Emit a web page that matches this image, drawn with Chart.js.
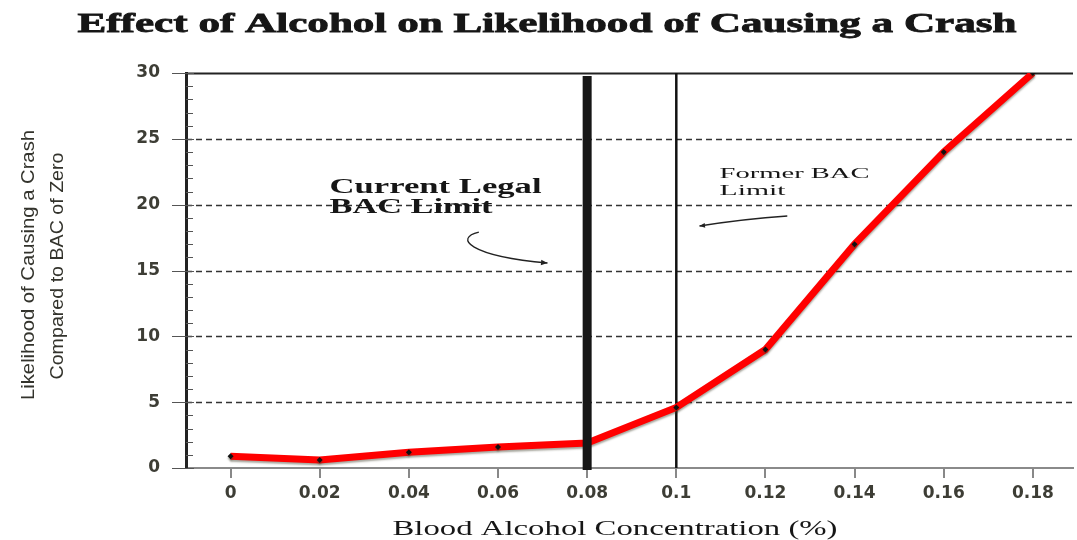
<!DOCTYPE html>
<html>
<head>
<meta charset="utf-8">
<script src="https://cdn.jsdelivr.net/npm/chart.js@4.4.1/dist/chart.umd.min.js"></script>
<style>
  html, body { margin: 0; padding: 0; background: #fff; }
  canvas { display: block; }
</style>
</head>
<body>
<canvas id="crashChart" width="1077" height="540"></canvas>
<script>
// Blood alcohol concentration (%) on the x axis
const bacValues = [0, 0.02, 0.04, 0.06, 0.08, 0.1, 0.12, 0.14, 0.16, 0.18];
const bacTickLabels = ['0', '0.02', '0.04', '0.06', '0.08', '0.1', '0.12', '0.14', '0.16', '0.18'];
// Relative likelihood of causing a crash (BAC of zero = 1)
const likelihood = [0.9, 0.6, 1.2, 1.6, 1.9, 4.6, 9, 17, 24, 30];
const yTickValues = [0, 5, 10, 15, 20, 25, 30];
const legalLimit = 0.08;
const formerLimit = 0.1;

// draw text stretched along its baseline so it fills a given width
function drawFitted(ctx, text, x, y, width, font, align, angle, stroke) {
    ctx.save();
    ctx.translate(x, y);
    if (angle) ctx.rotate(angle);
    ctx.font = font;
    const w = ctx.measureText(text).width;
    ctx.scale(width / w, 1);
    ctx.textAlign = 'left';
    const tx = align === 'center' ? -w / 2 : 0;
    ctx.fillText(text, tx, 0);
    if (stroke) {
        ctx.lineWidth = stroke;
        ctx.strokeStyle = ctx.fillStyle;
        ctx.strokeText(text, tx, 0);
    }
    ctx.restore();
}

function arrowHead(ctx, fromX, fromY, toX, toY, size) {
    const a = Math.atan2(toY - fromY, toX - fromX);
    ctx.beginPath();
    ctx.moveTo(toX, toY);
    ctx.lineTo(toX - size * Math.cos(a - 0.4), toY - size * Math.sin(a - 0.4));
    ctx.lineTo(toX - size * Math.cos(a + 0.4), toY - size * Math.sin(a + 0.4));
    ctx.closePath();
    ctx.fill();
}

const decorPlugin = {
    id: 'decor',
    beforeDatasetsDraw(chart) {
        const { ctx, chartArea: area, scales: { x, y } } = chart;
        ctx.save();
        // horizontal grid lines
        yTickValues.forEach(v => {
            if (v === 0) return;
            const py = Math.round(y.getPixelForValue(v)) + 0.5;
            ctx.beginPath();
            if (v === 30) {
                ctx.setLineDash([]);
                ctx.lineWidth = 2;
                ctx.strokeStyle = '#222';
            } else {
                ctx.setLineDash([6, 4]);
                ctx.lineWidth = 1.5;
                ctx.strokeStyle = '#333';
            }
            ctx.moveTo(area.left, py);
            ctx.lineTo(area.right, py);
            ctx.stroke();
        });
        ctx.setLineDash([]);
        // y minor ticks (every 1) inside axis, major ticks across it
        ctx.strokeStyle = '#555';
        ctx.lineWidth = 1;
        for (let v = 0; v <= 30; v++) {
            const py = Math.round(y.getPixelForValue(v)) + 0.5;
            ctx.beginPath();
            if (v % 5 === 0) {
                ctx.moveTo(area.left - 14, py);
                ctx.lineTo(area.left + 8, py);
            } else {
                ctx.moveTo(area.left, py);
                ctx.lineTo(area.left + 7, py);
            }
            ctx.stroke();
        }
        // x major ticks below axis
        ctx.strokeStyle = '#888';
        ctx.lineWidth = 2;
        bacValues.forEach(v => {
            const px = Math.round(x.getPixelForValue(v));
            ctx.beginPath();
            ctx.moveTo(px, area.bottom);
            ctx.lineTo(px, area.bottom + 10);
            ctx.stroke();
        });
        // former limit line
        const fx = x.getPixelForValue(formerLimit);
        ctx.strokeStyle = '#111';
        ctx.lineWidth = 2.5;
        ctx.beginPath();
        ctx.moveTo(fx, area.top);
        ctx.lineTo(fx, area.bottom);
        ctx.stroke();
        ctx.restore();
        // soft shadow under the red line
        ctx.save();
        ctx.shadowColor = 'rgba(60,60,40,0.45)';
        ctx.shadowOffsetY = 2;
        ctx.shadowBlur = 2;
    },
    afterDatasetsDraw(chart) {
        const { ctx, chartArea: area, scales: { x } } = chart;
        ctx.restore();
        // current legal limit line
        const lx = x.getPixelForValue(legalLimit);
        ctx.save();
        ctx.strokeStyle = '#161616';
        ctx.lineWidth = 9;
        ctx.beginPath();
        ctx.moveTo(lx, area.top + 3);
        ctx.lineTo(lx, area.bottom + 2);
        ctx.stroke();
        ctx.restore();
    },
    afterDraw(chart) {
        const { ctx, scales: { x, y } } = chart;
        ctx.save();
        ctx.fillStyle = '#161616';
        ctx.textBaseline = 'alphabetic';
        // chart title
        drawFitted(ctx, 'Effect of Alcohol on Likelihood of Causing a Crash', 547, 32, 939,
            'bold 27px "Liberation Serif"', 'center', 0, 0.8);
        // x axis title
        drawFitted(ctx, 'Blood Alcohol Concentration (%)', 615, 535, 445,
            '22px "Liberation Serif"', 'center');
        // y axis title, two rotated lines
        ctx.fillStyle = '#33332c';
        ctx.textBaseline = 'middle';
        drawFitted(ctx, 'Likelihood of Causing a Crash', 29, 265, 270,
            '18px "Liberation Sans"', 'center', -Math.PI / 2);
        drawFitted(ctx, 'Compared to BAC of Zero', 58, 266, 227,
            '18px "Liberation Sans"', 'center', -Math.PI / 2);

        // annotations
        ctx.fillStyle = '#161616';
        ctx.textBaseline = 'alphabetic';
        drawFitted(ctx, 'Current Legal', x.getPixelForValue(0.0222), y.getPixelForValue(20.9), 212,
            'bold 20px "Liberation Serif"', 'left');
        drawFitted(ctx, 'BAC Limit', x.getPixelForValue(0.0222), y.getPixelForValue(19.37), 163,
            'bold 20px "Liberation Serif"', 'left');
        drawFitted(ctx, 'Former BAC', x.getPixelForValue(0.1097), y.getPixelForValue(22.03), 150,
            '15px "Liberation Serif"', 'left');
        drawFitted(ctx, 'Limit', x.getPixelForValue(0.1097), y.getPixelForValue(20.73), 66,
            '15px "Liberation Serif"', 'left');

        // curved arrow toward the current limit
        ctx.strokeStyle = '#222';
        ctx.lineWidth = 1.3;
        const s = [x.getPixelForValue(0.0557), y.getPixelForValue(17.92)];
        const c1 = [x.getPixelForValue(0.0501), y.getPixelForValue(17.47)];
        const c2 = [x.getPixelForValue(0.0534), y.getPixelForValue(16.1)];
        const e = [x.getPixelForValue(0.0711), y.getPixelForValue(15.57)];
        ctx.beginPath();
        ctx.moveTo(s[0], s[1]);
        ctx.bezierCurveTo(c1[0], c1[1], c2[0], c2[1], e[0], e[1]);
        ctx.stroke();
        ctx.fillStyle = '#222';
        arrowHead(ctx, c2[0], c2[1], e[0], e[1], 7);

        // arrow toward the former limit
        const fs = [x.getPixelForValue(0.1249), y.getPixelForValue(19.14)];
        const fe = [x.getPixelForValue(0.1052), y.getPixelForValue(18.38)];
        ctx.beginPath();
        ctx.moveTo(fs[0], fs[1]);
        ctx.quadraticCurveTo((fs[0] + fe[0]) / 2, (fs[1] + fe[1]) / 2 - 2, fe[0], fe[1]);
        ctx.stroke();
        arrowHead(ctx, fs[0], fs[1], fe[0], fe[1], 6);
        ctx.restore();
    }
};

const tickFont = { family: '"DejaVu Sans"', size: 17, weight: 'bold' };

new Chart(document.getElementById('crashChart'), {
    type: 'line',
    data: {
        datasets: [{
            data: bacValues.map((v, i) => ({ x: v, y: likelihood[i] })),
            borderColor: '#ff0000',
            borderWidth: 7,
            tension: 0,
            pointRadius: 3,
            pointStyle: 'rectRot',
            pointBackgroundColor: '#111',
            pointBorderColor: '#111',
            pointBorderWidth: 0
        }]
    },
    options: {
        responsive: false,
        animation: false,
        devicePixelRatio: 1,
        layout: { padding: { left: 0, top: 73, right: 0, bottom: 0 } },
        plugins: {
            legend: { display: false },
            tooltip: { enabled: false }
        },
        scales: {
            x: {
                type: 'linear',
                min: -0.01,
                max: 0.189,
                afterBuildTicks: s => { s.ticks = bacValues.map(v => ({ value: v })); },
                afterFit: s => { s.height = 72; },
                grid: { display: false, drawTicks: false },
                border: { display: true, color: '#8a8a8a', width: 2 },
                ticks: {
                    autoSkip: false,
                    maxRotation: 0,
                    padding: 15,
                    color: '#3d3d35',
                    font: tickFont,
                    callback: (v, i) => bacTickLabels[i]
                }
            },
            y: {
                min: 0,
                max: 30,
                afterBuildTicks: s => { s.ticks = yTickValues.map(v => ({ value: v })); },
                afterFit: s => { s.width = 186; },
                grid: { display: false, drawTicks: false },
                border: { display: true, color: '#222', width: 3 },
                ticks: {
                    padding: 26,
                    color: '#3d3d35',
                    font: tickFont
                }
            }
        }
    },
    plugins: [decorPlugin]
});
</script>
</body>
</html>
